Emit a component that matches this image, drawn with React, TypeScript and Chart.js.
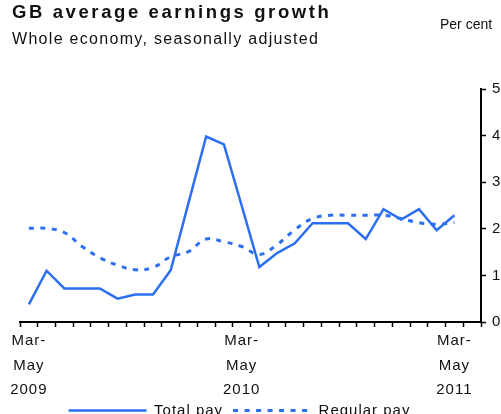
import React, { useEffect, useRef } from 'react';
import { Chart, registerables } from 'chart.js';

Chart.register(...registerables);

const categories = [
  'Mar-May 2009', 'Apr-Jun 2009', 'May-Jul 2009', 'Jun-Aug 2009', 'Jul-Sep 2009',
  'Aug-Oct 2009', 'Sep-Nov 2009', 'Oct-Dec 2009', 'Nov-Jan 2010', 'Dec-Feb 2010',
  'Jan-Mar 2010', 'Feb-Apr 2010', 'Mar-May 2010', 'Apr-Jun 2010', 'May-Jul 2010',
  'Jun-Aug 2010', 'Jul-Sep 2010', 'Aug-Oct 2010', 'Sep-Nov 2010', 'Oct-Dec 2010',
  'Nov-Jan 2011', 'Dec-Feb 2011', 'Jan-Mar 2011', 'Feb-Apr 2011', 'Mar-May 2011',
  'Apr-Jun 2011',
];

const labelledCategories = ['Mar-May 2009', 'Mar-May 2010', 'Mar-May 2011'];

const totalPay = [
  0.38, 1.1, 0.72, 0.72, 0.72, 0.5, 0.59, 0.59, 1.11, 2.55, 3.98, 3.81, 2.5,
  1.18, 1.48, 1.69, 2.12, 2.12, 2.12, 1.78, 2.42, 2.2, 2.42, 1.97, 2.29, null,
];

const regularPay = [
  2.01, 2.01, 1.92, 1.62, 1.38, 1.22, 1.12, 1.17, 1.4, 1.51, 1.78, 1.72, 1.62,
  1.45, 1.66, 1.98, 2.22, 2.29, 2.29, 2.29, 2.29, 2.22, 2.13, 2.1, 2.13, null,
];

const yMin = 0;
const yMax = 5;
const yStep = 1;

const seriesNames = ['Total pay', 'Regular pay'];

const BLUE = '#2d6ff2';
const FONT = "'Liberation Sans', Arial, Helvetica, sans-serif";

export default function App() {
  const canvasRef = useRef<HTMLCanvasElement | null>(null);

  useEffect(() => {
    const canvas = canvasRef.current;
    if (!canvas) return;

    const tweak = {
      id: 'tweak',
      beforeUpdate(chart: any) {
        chart.ctx.letterSpacing = '1px';
      },
      afterLayout(chart: any) {
        const l = chart.legend;
        if (l) {
          l.left -= 21;
          l.right -= 21;
          l.top -= 7;
          l.bottom -= 7;
        }
      },
      beforeDraw(chart: any) {
        chart.ctx.letterSpacing = '1px';
      },
    };

    const chart = new Chart(canvas, {
      type: 'line',
      data: {
        labels: categories,
        datasets: [
          {
            label: seriesNames[0],
            data: totalPay,
            borderColor: BLUE,
            backgroundColor: BLUE,
            borderWidth: 2.5,
            pointRadius: 0,
            tension: 0,
            fill: false,
          },
          {
            label: seriesNames[1],
            data: regularPay,
            borderColor: BLUE,
            backgroundColor: BLUE,
            borderWidth: 3,
            borderDash: [5, 6.5],
            pointRadius: 0,
            tension: 0.4,
            fill: false,
          },
        ],
      },
      options: {
        animation: false,
        responsive: false,
        devicePixelRatio: 1,
        layout: { padding: { left: 20, right: 0, top: 89, bottom: 0 } },
        font: { family: FONT },
        plugins: {
          title: { display: false },
          tooltip: { enabled: false },
          legend: {
            display: true,
            position: 'bottom',
            labels: {
              usePointStyle: true,
              pointStyle: 'line',
              pointStyleWidth: 78,
              padding: 10,
              color: '#111',
              font: { family: FONT, size: 15 },
              generateLabels: (ch: any) => {
                const items = (Chart as any).defaults.plugins.legend.labels.generateLabels(ch);
                items.forEach((it: any) => {
                  const ds = ch.data.datasets[it.datasetIndex];
                  it.lineDash = ds.borderDash || [];
                  it.lineWidth = ds.borderWidth;
                  it.strokeStyle = ds.borderColor;
                  it.fillStyle = ds.borderColor;
                  it.pointStyle = 'line';
                });
                return items;
              },
            },
          },
        },
        scales: {
          x: {
            type: 'category',
            offset: true,
            grid: {
              offset: true,
              drawOnChartArea: false,
              drawTicks: true,
              tickLength: 5,
              tickColor: '#000',
              tickWidth: 1.5,
              color: '#000',
            },
            border: { display: true, color: '#000', width: 2 },
            ticks: {
              autoSkip: false,
              maxRotation: 0,
              minRotation: 0,
              padding: 2,
              color: '#111',
              font: { family: FONT, size: 15, lineHeight: 1.62 },
              callback: (_v: any, index: number) => {
                const c = categories[index];
                if (!labelledCategories.includes(c)) return '';
                const [months, year] = c.split(' ');
                const [a, b] = months.split('-');
                return [a + '-', b, year];
              },
            },
            afterFit: (s: any) => {
              s.height = 78;
            },
          },
          y: {
            position: 'right',
            min: yMin,
            max: yMax,
            ticks: {
              stepSize: yStep,
              padding: 6,
              color: '#111',
              font: { family: FONT, size: 15 },
            },
            grid: {
              drawOnChartArea: false,
              drawTicks: true,
              tickLength: 5,
              tickColor: '#000',
              tickWidth: 1.5,
            },
            border: { display: true, color: '#000', width: 2 },
            afterFit: (s: any) => {
              s.width = 20;
            },
          },
        },
      },
      plugins: [tweak],
    } as any);

    return () => chart.destroy();
  }, []);

  return (
    <div
      style={{
        position: 'fixed',
        left: 0,
        top: 0,
        width: 501,
        height: 414,
        overflow: 'hidden',
        background: '#fff',
        fontFamily: FONT,
        color: '#111',
      }}
    >
      <canvas
        ref={canvasRef}
        width={501}
        height={435}
        style={{ position: 'absolute', left: 0, top: 0, width: 501, height: 435 }}
      />
      <div
        style={{
          position: 'absolute',
          left: 12,
          top: 3.3,
          fontSize: 18.5,
          fontWeight: 700,
          letterSpacing: '2.6px',
          lineHeight: 1,
          whiteSpace: 'nowrap',
        }}
      >
        GB average earnings growth
      </div>
      <div
        style={{
          position: 'absolute',
          left: 12,
          top: 31,
          fontSize: 16,
          letterSpacing: '1.3px',
          lineHeight: 1,
          whiteSpace: 'nowrap',
        }}
      >
        Whole economy, seasonally adjusted
      </div>
      <div
        style={{
          position: 'absolute',
          left: 440,
          top: 16.5,
          fontSize: 14,
          lineHeight: 1,
          whiteSpace: 'nowrap',
        }}
      >
        Per cent
      </div>
    </div>
  );
}
